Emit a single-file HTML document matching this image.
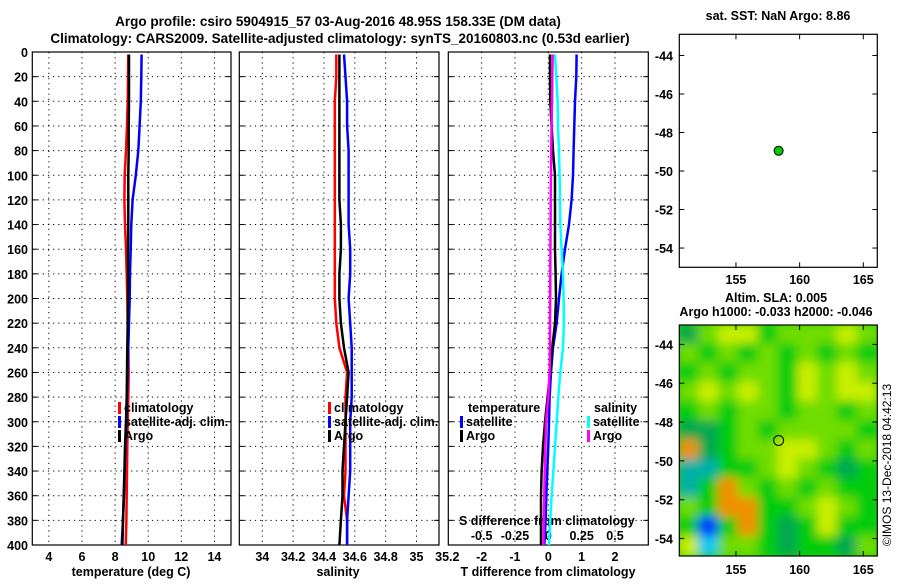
<!DOCTYPE html>
<html><head><meta charset="utf-8">
<style>
html,body{margin:0;padding:0;background:#fff;}
svg text{font-family:"Liberation Sans",Arial,sans-serif;font-weight:bold;font-size:12.5px;fill:#000;}
</style></head>
<body>
<svg id="fig" width="900" height="580" viewBox="0 0 900 580" xmlns="http://www.w3.org/2000/svg">
<text x="338" y="26" text-anchor="middle" style="font-size:13.5px">Argo profile: csiro 5904915_57 03-Aug-2016 48.95S 158.33E (DM data)</text>
<text x="340" y="43" text-anchor="middle" style="font-size:13.5px">Climatology: CARS2009. Satellite-adjusted climatology: synTS_20160803.nc (0.53d earlier)</text>
<g id="g"></g>
<text x="778" y="20" text-anchor="middle">sat. SST: NaN Argo: 8.86</text>
<text x="776" y="302" text-anchor="middle">Altim. SLA: 0.005</text>
<text x="776" y="316" text-anchor="middle">Argo h1000: -0.033 h2000: -0.046</text>
<text x="0" y="0" transform="translate(891,465) rotate(-90)" text-anchor="middle" style="font-weight:normal;font-size:12px">©IMOS 13-Dec-2018 04:42:13</text>
</svg>
<script>
// ---------- data ----------
const depthTicks=[0,20,40,60,80,100,120,140,160,180,200,220,240,260,280,300,320,340,360,380,400];
const tempTicks=[4,6,8,10,12,14];
const salTicks=[34,34.2,34.4,34.6,34.8,35,35.2];
const salTickLabels=["34","34.2","34.4","34.6","34.8","35","35.2"];
const tdiffTicks=[-2,-1,0,1,2];
const sdiffTicks=[-0.5,-0.25,0,0.25,0.5];
const sdiffTickLabels=["-0.5","-0.25","0","0.25","0.5"];
const lonTicks=[155,160,165];
const latTicks=[-44,-46,-48,-50,-52,-54];

const profDepth=[2,20,40,60,80,100,120,140,160,180,200,220,240,260,280,300,320,340,360,380,400];
const tempClim=[8.8,8.78,8.76,8.72,8.66,8.58,8.56,8.6,8.66,8.7,8.74,8.76,8.8,8.82,8.8,8.76,8.74,8.72,8.7,8.68,8.64];
const tempSat=[9.6,9.58,9.55,9.48,9.4,9.25,9.06,8.98,8.94,8.9,8.88,8.84,8.8,8.76,8.72,8.68,8.62,8.58,8.54,8.48,8.4];
const tempArgo=[8.84,8.84,8.84,8.82,8.82,8.8,8.8,8.8,8.78,8.78,8.78,8.76,8.74,8.72,8.7,8.66,8.6,8.56,8.52,8.48,8.44];
const salClim=[34.48,34.48,34.47,34.47,34.47,34.47,34.47,34.47,34.47,34.47,34.47,34.48,34.5,34.55,34.54,34.54,34.54,34.54,34.53,34.55,34.55];
const salSat=[34.53,34.54,34.55,34.55,34.56,34.56,34.56,34.56,34.57,34.57,34.56,34.57,34.58,34.58,34.58,34.57,34.57,34.57,34.56,34.55,34.55];
const salArgo=[34.5,34.5,34.5,34.5,34.5,34.5,34.5,34.51,34.51,34.5,34.5,34.51,34.53,34.56,34.55,34.54,34.53,34.52,34.52,34.51,34.5];
const tdiffSat=[0.85,0.84,0.8,0.78,0.76,0.74,0.7,0.62,0.5,0.4,0.32,0.25,0.14,0.08,0.04,0.02,0,-0.03,-0.06,-0.08,-0.12];
const tdiffArgo=[0.05,0.05,0.06,0.1,0.14,0.2,0.2,0.2,0.2,0.22,0.23,0.2,0.12,0.06,-0.02,-0.1,-0.16,-0.2,-0.22,-0.22,-0.22];
const sdiffSat=[0.05,0.06,0.07,0.073,0.08,0.085,0.088,0.09,0.1,0.11,0.115,0.117,0.11,0.09,0.075,0.063,0.05,0.038,0.025,0.015,0.005];
const sdiffArgo=[0.033,0.03,0.028,0.025,0.022,0.02,0.018,0.017,0.016,0.015,0.014,0.013,0.013,0.01,0.0,-0.017,-0.022,-0.027,-0.03,-0.034,-0.037];

const slaGrid=[
[-1,1,2,2,0,1,1,1,2,1],
[1,0,1,0,1,0,1,0,1,0],
[0,1,0,1,1,0,2,1,2,1],
[1,2,1,2,1,0,2,1,2,2],
[0,1,0,1,1,0,1,1,0,1],
[-1,-1,0,1,0,1,1,1,1,0],
[3,-1,0,1,1,2,2,1,0,1],
[-2,-2,0,0,1,2,1,0,-1,0],
[-2,0,3,1,0,1,0,1,0,0],
[1,0,3,3,0,0,1,2,1,0],
[0,-4,0,3,0,-1,0,2,0,0],
[2,-3,1,1,0,-1,0,0,-1,1]];
const argoLon=158.35, argoLat=-48.95;

// ---------- drawing ----------
const NS="http://www.w3.org/2000/svg";
const G=document.getElementById('g');
function mk(tag,attrs,parent){const e=document.createElementNS(NS,tag);for(const k in attrs)e.setAttribute(k,attrs[k]);(parent||G).appendChild(e);return e;}
function txt(s,x,y,anchor,extra){const t=mk('text',Object.assign({x:x,y:y,'text-anchor':anchor||'start'},extra||{}));t.textContent=s;return t;}

const PY0=52,PY1=545;
const yD=d=>PY0+(d/400)*(PY1-PY0);
function scale(d0,d1,p0,p1){return v=>p0+(v-d0)/(d1-d0)*(p1-p0);}

function panel(name,x0,x1,xs,xt,drawY){
  const fr=mk('rect',{x:x0,y:PY0,width:x1-x0,height:PY1-PY0,fill:'none',stroke:'#000','stroke-width':1.2});
  
  
  depthTicks.forEach(d=>{
    const y=yD(d);
    if(d>0&&d<400){const l=mk('line',{x1:x0,x2:x1,y1:y,y2:y,stroke:'#000','stroke-dasharray':'1.2,4','stroke-width':1});
      
      }
    mk('line',{x1:x0,x2:x0+5,y1:y,y2:y,stroke:'#000'});
    mk('line',{x1:x1-5,x2:x1,y1:y,y2:y,stroke:'#000'});
    if(drawY){const t=txt(String(d),28,y+5,'end');
      
      }
  });
  xt.forEach(v=>{
    const x=xs(v); if(x<=x0||x>=x1) return;
    const l=mk('line',{x1:x,x2:x,y1:PY0,y2:PY1,stroke:'#000','stroke-dasharray':'1.2,4','stroke-width':1});
    
    
  });
}
function line(name,xs,vals,color){
  const pts=profDepth.map((d,i)=>xs(vals[i]).toFixed(1)+','+yD(d).toFixed(1)).join(' ');
  const p=mk('polyline',{points:pts,fill:'none',stroke:color,'stroke-width':2.5});
  
  
}
function legendEntry(name,x,y,color,label){
  const b=mk('rect',{x:x,y:y-10,width:3,height:12,fill:color});
  
  
  const t=txt(label,x+6,y);
  
  
}

// panel 1 temperature
const xT=scale(3,15,32.3,231);
panel('temp-panel',32.3,231,xT,tempTicks,true);
tempTicks.forEach(v=>{const t=txt(String(v),xT(v),561,'middle');
  
  });
{const t=txt('temperature (deg C)',131,576,'middle');

}
line('temp-climatology-line',xT,tempClim,'#ff0000');
line('temp-satellite-line',xT,tempSat,'#0000ff');
line('temp-argo-line',xT,tempArgo,'#000000');
legendEntry('legend-climatology',118,412,'#ff0000','climatology');
legendEntry('legend-satellite-adj',118,426,'#0000ff','satellite-adj. clim.');
legendEntry('legend-argo',118,440,'#000000','Argo');

// panel 2 salinity
const xS=scale(33.851,35.146,239.3,439);
panel('sal-panel',239.3,439,xS,salTicks,false);
salTicks.forEach((v,i)=>{const t=txt(salTickLabels[i],xS(v),561,'middle');
  
  });
{const t=txt('salinity',338,576,'middle');

}
line('sal-climatology-line',xS,salClim,'#ff0000');
line('sal-satellite-line',xS,salSat,'#0000ff');
line('sal-argo-line',xS,salArgo,'#000000');
legendEntry('legend-sal-climatology',328,412,'#ff0000','climatology');
legendEntry('legend-sal-satellite-adj',328,426,'#0000ff','satellite-adj. clim.');
legendEntry('legend-sal-argo',328,440,'#000000','Argo');

// panel 3 differences
const xDT=scale(-3,3,448.3,648.3);
const xDS=scale(-0.75,0.75,448.3,648.3);
panel('diff-panel',448.3,648.3,xDT,tdiffTicks,false);
tdiffTicks.forEach(v=>{const t=txt(String(v),xDT(v),561,'middle');
  
  });
{const t=txt('T difference from climatology',548,576,'middle');

}
sdiffTicks.forEach((v,i)=>{const t=txt(sdiffTickLabels[i],xDS(v),540,'middle');
  
  });
{const t=txt('S difference from climatology',459,525,'start');

}
line('tdiff-satellite-line',xDT,tdiffSat,'#0000ff');
line('sdiff-satellite-line',xDS,sdiffSat,'#00ffff');
line('tdiff-argo-line',xDT,tdiffArgo,'#000000');
line('sdiff-argo-line',xDS,sdiffArgo,'#ff00ff');
{const t=txt('temperature',468,412);


const s=txt('salinity',594,412);

}
legendEntry('legend-tdiff-satellite',460,426,'#0000ff','satellite');
legendEntry('legend-tdiff-argo',460,440,'#000000','Argo');
legendEntry('legend-sdiff-satellite',587,426,'#00ffff','satellite');
legendEntry('legend-sdiff-argo',587,440,'#ff00ff','Argo');

// maps
const MX0=679.3,MX1=877.3;
const xLon=scale(150.55,166.1,MX0,MX1);
function mapFrame(name,y0,y1,yLat,lblY){
  const r=mk('rect',{x:MX0,y:y0,width:MX1-MX0,height:y1-y0,fill:'none',stroke:'#000','stroke-width':1.2});
  
  
  lonTicks.forEach(v=>{const x=xLon(v);
    mk('line',{x1:x,x2:x,y1:y0,y2:y0+5,stroke:'#000'});
    mk('line',{x1:x,x2:x,y1:y1-5,y2:y1,stroke:'#000'});
    const t=txt(String(v),x,lblY,'middle');
    
    });
  latTicks.forEach(v=>{const y=yLat(v);
    mk('line',{x1:MX0,x2:MX0+5,y1:y,y2:y,stroke:'#000'});
    mk('line',{x1:MX1-5,x2:MX1,y1:y,y2:y,stroke:'#000'});
    const t=txt(String(v),673,y+5,'end');
    
    });
}
// map 1
const yLat1=scale(-42.9,-55,34.3,267.3);
mapFrame('sst-map',34.3,267.3,yLat1,284);
{const c=mk('circle',{cx:xLon(argoLon),cy:yLat1(argoLat),r:4.5,fill:'#00cc00',stroke:'#000','stroke-width':1});

}

// map 2 heatmap
const MY0=325,MY1=556;
const yLat2=scale(-43,-54.9,MY0,MY1);
const defs=mk('defs',{});
const cp=mk('clipPath',{id:'mclip'},defs);
mk('rect',{x:MX0,y:MY0,width:MX1-MX0,height:MY1-MY0},cp);
const fl=mk('filter',{id:'bl',filterUnits:'userSpaceOnUse',x:MX0-30,y:MY0-30,width:MX1-MX0+60,height:MY1-MY0+60},defs);
mk('feGaussianBlur',{stdDeviation:5},fl);
const cmap={'-5':'#0000cc','-4':'#0030ff','-3':'#00c8f0','-2':'#00b0a8','-1':'#00a850','0':'#00cc10','1':'#70dd00','2':'#c8ee00','3':'#f09000'};
const hg=mk('g',{'clip-path':'url(#mclip)'});
mk('rect',{x:MX0,y:MY0,width:MX1-MX0,height:MY1-MY0,fill:'#30d000'},hg);
const bg=mk('g',{filter:'url(#bl)'},hg);
const nR=slaGrid.length,nC=slaGrid[0].length;
const cw=(MX1-MX0)/nC,ch=(MY1-MY0)/nR;
slaGrid.forEach((row,i)=>row.forEach((v,j)=>{
  const c=mk('rect',{x:MX0+j*cw-1,y:MY0+i*ch-1,width:cw+2,height:ch+2,fill:cmap[String(v)]},bg);
  
  
}));
mapFrame('sla-map',MY0,MY1,yLat2,574);
{const c=mk('circle',{cx:xLon(argoLon),cy:yLat2(argoLat),r:5,fill:'none',stroke:'#000','stroke-width':1});

}
</script>
</body></html>
